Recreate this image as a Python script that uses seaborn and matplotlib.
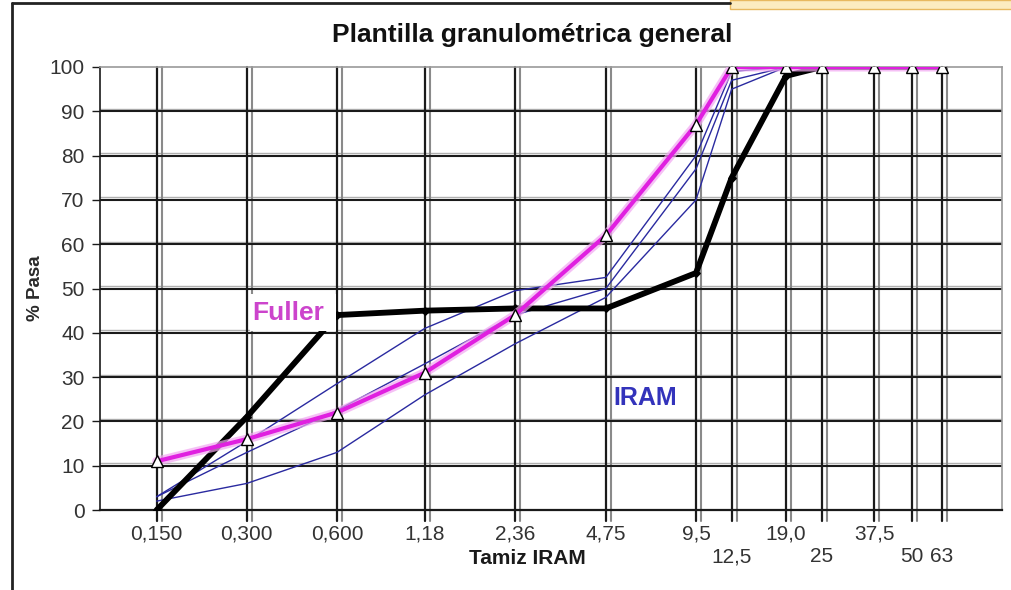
import numpy as np
import pandas as pd
import matplotlib
matplotlib.use("Agg")
import matplotlib.pyplot as plt
import matplotlib.transforms as mtransforms
from matplotlib.lines import Line2D
from matplotlib.patches import Rectangle
import seaborn as sns

# ---------------- data ----------------
sizes = [0.150, 0.300, 0.600, 1.18, 2.36, 4.75, 9.5, 12.5, 19.0, 25, 37.5, 50, 63]
size_labels = ['0,150', '0,300', '0,600', '1,18', '2,36', '4,75', '9,5',
               '12,5', '19,0', '25', '37,5', '50', '63']
label_row = [0, 0, 0, 0, 0, 0, 0, 1, 0, 1, 0, 1, 1]

fuller = [11, 16, 22, 31, 44, 62, 87, 100, 100, 100, 100, 100, 100]
mezcla = [0, 21, 44, 45, 45.5, 45.5, 53.5, 75, 98, 100, 100, 100, 100]
iram_sup = [3, 15.5, 28.5, 41, 49.5, 52.5, 80, 99, 100, 100, 100, 100, 100]
iram_med = [3, 13, 22.5, 33, 44, 50, 77, 97, 100, 100, 100, 100, 100]
iram_inf = [2, 6, 13, 26, 37.5, 48, 70, 95, 100, 100, 100, 100, 100]

y_ticks = [0, 10, 20, 30, 40, 50, 60, 70, 80, 90, 100]

title = "Plantilla granulométrica general"
xlabel = "Tamiz IRAM"
ylabel = "% Pasa"

# ---------------- style ----------------
sns.set_style("white")
plt.rcParams['font.family'] = ['Liberation Sans', 'DejaVu Sans']

fig = plt.figure(figsize=(10.12, 5.90), dpi=100)
ax = fig.add_axes([100 / 1012, 80 / 590, 902 / 1012, 443 / 590])
ax.set_xscale('log')
ax.set_xlim(0.097, 100)
ax.set_ylim(0, 100)

# horizontal grid lines (dark with light shadow above)
ytr = ax.get_yaxis_transform()
ytr_up = mtransforms.offset_copy(ytr, fig=fig, x=0, y=2.5, units='dots')
for yv in y_ticks[1:-1]:
    ax.plot([0, 1], [yv, yv], transform=ytr_up, color='#b0b0b0', lw=1.0, zorder=1)
    ax.plot([0, 1], [yv, yv], transform=ytr, color='#1a1a1a', lw=1.5, zorder=1.2)

# vertical grid lines: doubled (dark + gray) and extending below the axis
xtr = ax.get_xaxis_transform()
xtr_off = mtransforms.offset_copy(xtr, fig=fig, x=5, y=0, units='dots')
for xv in sizes:
    ax.plot([xv, xv], [-0.025, 1], transform=xtr_off, color='#8a8a8a', lw=1.5,
            clip_on=False, zorder=1)
    ax.plot([xv, xv], [-0.025, 1], transform=xtr, color='#1a1a1a', lw=1.6,
            clip_on=False, zorder=1.2)

# IRAM limit curves (thin blue)
blue = '#2a2aa0'
for ser in (iram_sup, iram_med, iram_inf):
    sns.lineplot(x=sizes, y=ser, ax=ax, color=blue, lw=1.0, sort=False,
                 errorbar=None, zorder=3)

# black curve (mezcla)
sns.lineplot(x=sizes, y=mezcla, ax=ax, color='black', lw=4.2, sort=False,
             errorbar=None, marker='D', markersize=4, markeredgecolor='black',
             zorder=4)

# Fuller curve (magenta) with glow and triangle markers
sns.lineplot(x=sizes, y=fuller, ax=ax, color='#f2a6f2', lw=6.5, sort=False,
             errorbar=None, zorder=4.5, alpha=0.7)
sns.lineplot(x=sizes, y=fuller, ax=ax, color='#e020e0', lw=3.0, sort=False,
             errorbar=None, zorder=5)
sns.lineplot(x=sizes, y=fuller, ax=ax, color='none', lw=0, sort=False,
             errorbar=None, marker='^', markersize=9, markerfacecolor='white',
             markeredgecolor='black', markeredgewidth=1.0, zorder=6)

# "Fuller" label sits in a white text box that hides what is behind it
ax.add_patch(Rectangle((0.307, 40.4), 0.5954 - 0.307, 48.8 - 40.4,
                       facecolor='white', edgecolor='none', zorder=6.5))
ax.text(0.3117, 42.9, "Fuller", color='#cc44cc', fontsize=19, fontweight='bold',
        ha='left', va='baseline', zorder=7)
ax.text(6.45, 25.3, "IRAM", color='#3333bb', fontsize=18, fontweight='bold',
        ha='center', va='center', zorder=7)

# spines
for side in ('top', 'right'):
    ax.spines[side].set_color('#9a9a9a')
    ax.spines[side].set_linewidth(1.2)
ax.spines['left'].set_color('#1a1a1a')
ax.spines['left'].set_linewidth(1.2)
ax.spines['bottom'].set_color('#1a1a1a')
ax.spines['bottom'].set_linewidth(1.6)

# ticks
ax.set_yticks(y_ticks)
ax.set_yticklabels([str(v) for v in y_ticks])
ax.tick_params(axis='y', direction='out', length=6, width=1.0, color='#1a1a1a',
               labelsize=15, labelcolor='#333333', pad=5, left=True)
ax.set_xticks([])
ax.set_xticks([], minor=True)
ax.set_xlabel('')
ax.set_ylabel('')

row_y = [-0.054, -0.106]
for xv, lab, r in zip(sizes, size_labels, label_row):
    ax.text(xv, row_y[r], lab, transform=xtr, ha='center', va='center',
            fontsize=15, color='#333333')

fig.text(527 / 1012, 1 - 558 / 590, xlabel, ha='center', va='center',
         fontsize=15, fontweight='bold', color='#1a1a1a')
fig.text(36 / 1012, 1 - 288 / 590, ylabel, ha='center', va='center',
         rotation=90, fontsize=13.5, fontweight='bold', color='#2a2a2a')
fig.text(532 / 1012, 1 - 35 / 590, title, ha='center', va='center',
         fontsize=19, fontweight='bold', color='#111111',
         family=['Liberation Sans Narrow', 'Liberation Sans', 'DejaVu Sans'])

# outer frame (left and top edges) and top-right strip
fig.add_artist(Line2D([12 / 1012, 12 / 1012], [0, 1 - 3 / 590],
                      transform=fig.transFigure, color='#222222', lw=2))
fig.add_artist(Line2D([12 / 1012, 730 / 1012], [1 - 3 / 590, 1 - 3 / 590],
                      transform=fig.transFigure, color='#222222', lw=2))
fig.add_artist(Rectangle((730 / 1012, 1 - 9 / 590), 282 / 1012, 9 / 590,
                         transform=fig.transFigure, facecolor='#fcebc0',
                         edgecolor='#e8b860', lw=1))

fig.savefig("out.png", dpi=100)
